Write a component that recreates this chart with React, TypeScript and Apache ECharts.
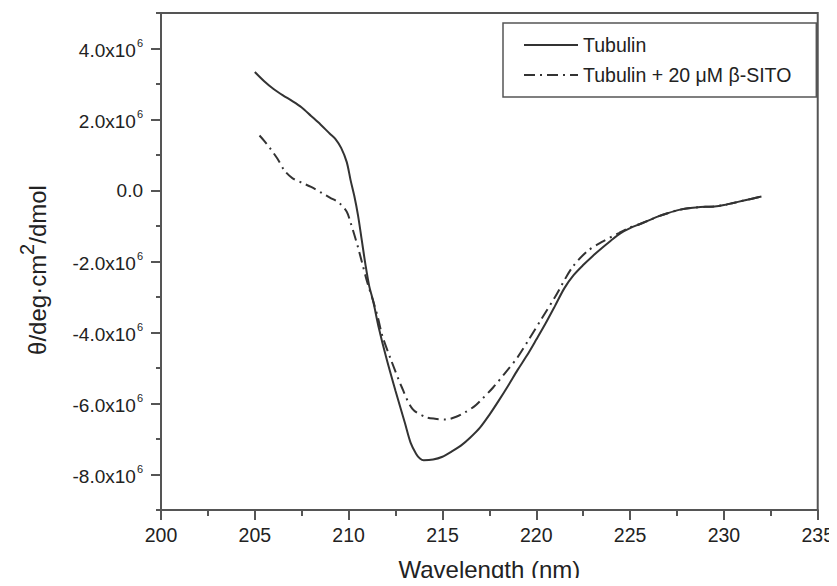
import React, { useEffect, useRef } from "react";
import * as echarts from "echarts";

const wavelengthTub = [205.0, 205.5, 206, 206.5, 207, 207.5, 208, 208.5, 209, 209.3, 209.6, 209.9, 210.1, 210.3, 210.5, 210.7, 210.9, 211.1, 211.3, 211.6, 212.0, 212.5, 213.0, 213.3, 213.6, 213.8, 214.0, 214.5, 215.0, 215.5, 216.0, 216.5, 217.0, 217.5, 218.0, 218.5, 219.0, 219.5, 220.0, 220.5, 221.0, 221.5, 222.0, 222.5, 223.0, 223.5, 224.0, 224.5, 225.0, 225.5, 226.0, 226.5, 227.0, 227.5, 228.0, 228.5, 229.0, 229.5, 230.0, 230.5, 231.0, 231.5, 232.0];
const thetaTub = [3.34e6, 3.08e6, 2.86e6, 2.68e6, 2.52e6, 2.34e6, 2.1e6, 1.86e6, 1.6e6, 1.45e6, 1.2e6, 0.8e6, 0.3e6, -0.15e6, -0.7e6, -1.4e6, -2.1e6, -2.7e6, -3.1e6, -3.85e6, -4.7e6, -5.65e6, -6.55e6, -7.1e6, -7.42e6, -7.55e6, -7.6e6, -7.58e6, -7.5e6, -7.35e6, -7.18e6, -6.95e6, -6.68e6, -6.32e6, -5.92e6, -5.5e6, -5.06e6, -4.65e6, -4.2e6, -3.74e6, -3.25e6, -2.75e6, -2.38e6, -2.1e6, -1.85e6, -1.62e6, -1.4e6, -1.2e6, -1.06e6, -0.95e6, -0.84e6, -0.73e6, -0.64e6, -0.56e6, -0.51e6, -0.48e6, -0.46e6, -0.45e6, -0.41e6, -0.35e6, -0.29e6, -0.23e6, -0.17e6];

const wavelengthSito = [205.25, 205.5, 205.8, 206.2, 206.6, 207.0, 207.5, 208.0, 208.6, 209.0, 209.5, 209.9, 210.1, 210.3, 210.5, 210.7, 211.0, 211.3, 211.55, 211.8, 212.25, 212.8, 213.4, 214.1, 214.6, 215.2, 215.7, 216.2, 216.7, 217.1, 217.7, 218.4, 219.0, 219.6, 220.3, 221.0, 221.9, 222.7, 223.5, 224.4, 225.0, 225.5, 226.0, 226.5, 227.0, 227.5, 228.0, 228.5, 229.0, 229.5, 230.0, 230.5, 231.0, 231.5, 232.0];
const thetaSito = [1.55e6, 1.4e6, 1.2e6, 0.9e6, 0.55e6, 0.35e6, 0.22e6, 0.1e6, -0.08e6, -0.2e6, -0.35e6, -0.6e6, -0.9e6, -1.24e6, -1.6e6, -2.0e6, -2.6e6, -3.1e6, -3.56e6, -4.1e6, -4.76e6, -5.5e6, -6.15e6, -6.38e6, -6.43e6, -6.45e6, -6.38e6, -6.25e6, -6.08e6, -5.88e6, -5.55e6, -5.1e6, -4.7e6, -4.2e6, -3.6e6, -3.0e6, -2.18e6, -1.72e6, -1.45e6, -1.2e6, -1.04e6, -0.95e6, -0.84e6, -0.73e6, -0.64e6, -0.56e6, -0.51e6, -0.48e6, -0.46e6, -0.45e6, -0.41e6, -0.35e6, -0.29e6, -0.23e6, -0.17e6];

const seriesNames = ["Tubulin", "Tubulin + 20 μM β-SITO"];
const yMajorTicks = [-8e6, -6e6, -4e6, -2e6, 0, 2e6, 4e6];

const FONT = "Liberation Sans, Arial, sans-serif";
const AXIS = "#555";
const TEXT = "#222";
const LINE = "#333";

export default function App() {
  const ref = useRef<HTMLDivElement>(null);
  useEffect(() => {
    if (!ref.current) return;
    const chart = echarts.init(ref.current, null, { renderer: "svg" });
    const fmtY = (v: number) =>
      v === 0 ? "{a|0.0}" : `{a|${(v / 1e6).toFixed(1)}x10}{s|6}`;
    chart.setOption({
      animation: false,
      backgroundColor: "#fff",
      textStyle: { fontFamily: FONT },
      grid: {
        left: 161,
        right: 17,
        top: 13,
        bottom: 71,
        show: true,
        borderColor: AXIS,
        borderWidth: 2,
        backgroundColor: "transparent",
      },
      legend: {
        left: 503,
        top: 23,
        orient: "vertical",
        backgroundColor: "#fff",
        borderColor: AXIS,
        borderWidth: 1.5,
        borderRadius: 0,
        padding: [12, 25, 12, 20],
        itemWidth: 54,
        itemHeight: 20,
        itemGap: 10,
        itemStyle: { opacity: 0, borderWidth: 0 },
        textStyle: { fontSize: 19.5, color: TEXT, fontFamily: FONT },
        data: seriesNames,
      },
      xAxis: {
        type: "value",
        min: 200,
        max: 235,
        interval: 5,
        name: "Wavelength (nm)",
        nameLocation: "middle",
        nameGap: 47,
        nameTextStyle: { fontSize: 24, color: TEXT, fontFamily: FONT },
        axisLine: { show: true, onZero: false, lineStyle: { color: AXIS, width: 2 } },
        axisTick: { show: true, length: 10, lineStyle: { color: AXIS, width: 2 } },
        minorTick: { show: true, splitNumber: 2, length: 6, lineStyle: { color: AXIS, width: 2 } },
        axisLabel: { fontSize: 19.5, color: TEXT, margin: 15, fontFamily: FONT },
        splitLine: { show: false },
      },
      yAxis: [
        {
          type: "value",
          min: -9e6,
          max: 5e6,
          interval: 1e6,
          position: "left",
          axisLine: { show: true, onZero: false, lineStyle: { color: AXIS, width: 2 } },
          axisTick: {
            show: true,
            length: 10,
            customValues: yMajorTicks,
            lineStyle: { color: AXIS, width: 2 },
          },
          axisLabel: {
            customValues: yMajorTicks,
            formatter: fmtY,
            margin: 18,
            color: TEXT,
            rich: {
              a: { fontSize: 19, color: TEXT, fontFamily: FONT, verticalAlign: "bottom" },
              s: { fontSize: 11, color: TEXT, fontFamily: FONT, verticalAlign: "bottom", padding: [0, 0, 12, 1] },
            },
          },
          splitLine: { show: false },
        },
        {
          type: "value",
          min: -9e6,
          max: 5e6,
          interval: 1e6,
          position: "left",
          axisLine: { show: false, onZero: false },
          axisTick: { show: true, length: 5, lineStyle: { color: AXIS, width: 2 } },
          axisLabel: { show: false },
          splitLine: { show: false },
        },
      ],
      series: [
        {
          name: seriesNames[0],
          type: "line",
          yAxisIndex: 0,
          showSymbol: false,
          symbol: "none",
          smooth: 0.3,
          lineStyle: { color: LINE, width: 2, type: "solid" },
          itemStyle: { color: LINE },
          data: wavelengthTub.map((w, i) => [w, thetaTub[i]]),
        },
        {
          name: seriesNames[1],
          type: "line",
          yAxisIndex: 0,
          showSymbol: false,
          symbol: "none",
          smooth: 0.3,
          lineStyle: { color: LINE, width: 2, type: [11, 5, 2, 5] },
          itemStyle: { color: LINE },
          data: wavelengthSito.map((w, i) => [w, thetaSito[i]]),
        },
      ],
      graphic: [
        {
          type: "text",
          x: 33,
          y: 270,
          rotation: Math.PI / 2,
          style: {
            text: "{a|θ/deg·cm}{s|2}{a|/dmol}",
            align: "center",
            verticalAlign: "middle",
            rich: {
              a: { fontSize: 24, fill: TEXT, fontFamily: FONT, verticalAlign: "bottom" },
              s: { fontSize: 20, fill: TEXT, fontFamily: FONT, verticalAlign: "bottom", padding: [0, 0, 12, 0] },
            },
          },
        },
      ],
    });
    return () => chart.dispose();
  }, []);
  return <div ref={ref} style={{ width: 837, height: 586, margin: -8 }} />;
}
